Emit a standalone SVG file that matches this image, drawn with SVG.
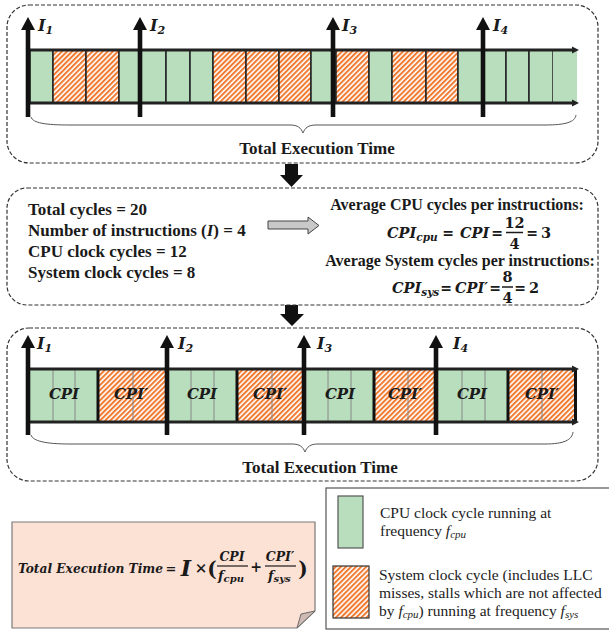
<svg xmlns="http://www.w3.org/2000/svg" xmlns:xlink="http://www.w3.org/1999/xlink" width="609" height="630" viewBox="0 0 609 630">
<style>
.dash{fill:none;stroke:#333;stroke-width:1.2;stroke-dasharray:4 2}
.g{fill:#B9DEBD;stroke:#222;stroke-width:1.5}
.h{fill:url(#hatch);stroke:#222;stroke-width:1.5}
.g2{fill:#B9DEBD;stroke:none}
.h2{fill:url(#hatch);stroke:none}
.thin{stroke:#888;stroke-width:1}
.thick{stroke:#111;stroke-width:3}
.bar{stroke:#222;stroke-width:3}
.brace{fill:none;stroke:#555;stroke-width:1}
.bt{font-family:"Liberation Serif",serif;font-weight:bold;fill:#1a1a1a}
.m{font-family:"DejaVu Serif",serif;font-weight:bold;font-style:italic;fill:#1a1a1a}
.mn{font-family:"DejaVu Serif",serif;font-weight:bold;fill:#1a1a1a}
.lg{font-family:"Liberation Serif",serif;font-size:15.5px;fill:#222}
.lbl{font-family:"DejaVu Serif",serif;font-weight:bold;font-style:italic;font-size:16px;fill:#1a1a1a}
</style>
<defs>
<pattern id="hatch" width="3.6" height="3.6" patternUnits="userSpaceOnUse" patternTransform="rotate(45)">
<rect width="3.6" height="3.6" fill="#fff"/>
<rect width="2" height="3.6" fill="#F07A30"/>
</pattern>
<g id="varrow">
<rect x="-2.3" y="11" width="4.6" height="89" fill="#111"/>
<polygon points="0,0 7,13 -7,13" fill="#111"/>
</g>
</defs>
<rect width="609" height="630" fill="#fff"/>

<!-- Panel 1 -->
<g id="panel1">
<rect class="dash" x="7" y="5" width="591" height="158" rx="22"/>
<g id="bar1">
<rect class="g" x="30" y="50" width="23" height="53"/>
<rect class="h" x="53" y="50" width="33" height="53"/>
<rect class="h" x="86" y="50" width="33" height="53"/>
<rect class="g" x="119" y="50" width="21" height="53"/>
<rect class="g" x="140" y="50" width="26" height="53"/>
<rect class="g" x="166" y="50" width="24" height="53"/>
<rect class="g" x="190" y="50" width="23" height="53"/>
<rect class="h" x="213" y="50" width="33" height="53"/>
<rect class="h" x="246" y="50" width="33" height="53"/>
<rect class="h" x="279" y="50" width="32" height="53"/>
<rect class="g" x="311" y="50" width="25" height="53"/>
<rect class="h" x="336" y="50" width="33" height="53"/>
<rect class="g" x="369" y="50" width="23" height="53"/>
<rect class="h" x="392" y="50" width="34" height="53"/>
<rect class="h" x="426" y="50" width="32" height="53"/>
<rect class="g" x="458" y="50" width="25" height="53"/>
<rect class="g" x="483" y="50" width="23" height="53"/>
<rect class="g" x="506" y="50" width="23" height="53"/>
<rect class="g" x="529" y="50" width="24" height="53"/>
<rect class="g2" x="553" y="50.8" width="24" height="51.4"/>
<line class="bar" x1="29" y1="50" x2="573" y2="50"/>
<line class="bar" x1="29" y1="103" x2="573" y2="103"/>
<polygon points="572,46.5 579,50 572,53.5" fill="#222"/>
<polygon points="572,99.5 579,103 572,106.5" fill="#222"/>
</g>
<path class="brace" d="M31,117 C33,123 45,125 70,125 L290,125 C298,125 301,128 303,133 C305,128 308,125 316,125 L545,125 C566,125 575,122 576,115"/>
<text class="bt" x="317" y="154" font-size="17" text-anchor="middle">Total Execution Time</text>
</g>

<g id="instr1">
<use xlink:href="#varrow" x="28" y="17"/>
<use xlink:href="#varrow" x="140" y="17"/>
<use xlink:href="#varrow" x="333" y="17"/>
<use xlink:href="#varrow" x="483" y="17"/>
<text class="lbl" x="38" y="31">I<tspan font-size="11" dy="3">1</tspan></text>
<text class="lbl" x="150" y="31">I<tspan font-size="11" dy="3">2</tspan></text>
<text class="lbl" x="342" y="31">I<tspan font-size="11" dy="3">3</tspan></text>
<text class="lbl" x="493" y="31">I<tspan font-size="11" dy="3">4</tspan></text>
</g>

<!-- connectors -->
<g id="connectors">
<polygon points="285,164 298,164 298,175 303,175 291.5,187 280,175 285,175" fill="#111"/>
<polygon points="285,305 298,305 298,314 304,314 292,326 280,314 285,314" fill="#111"/>
<polygon points="268,221 308,221 308,217 319,225.5 308,234 308,229 268,229" fill="#C8C8C8" stroke="#444" stroke-width="1"/>
</g>

<!-- Panel 2 -->
<g id="panel2">
<rect class="dash" x="7" y="188" width="591" height="117" rx="20"/>
<text class="bt" font-size="17" x="28" y="215">Total cycles = 20</text>
<text class="bt" font-size="17" x="28" y="236">Number of instructions (<tspan font-style="italic">I</tspan>) = 4</text>
<text class="bt" font-size="17" x="28" y="257">CPU clock cycles = 12</text>
<text class="bt" font-size="17" x="28" y="278">System clock cycles = 8</text>
<text class="bt" font-size="16" x="457" y="210" text-anchor="middle">Average CPU cycles per instructions:</text>
<text class="bt" font-size="16" x="460" y="266" text-anchor="middle">Average System cycles per instructions:</text>
<text class="m" font-size="14.5" x="387" y="238">CPI<tspan font-size="10.5" dy="3">cpu</tspan></text>
<text class="mn" font-size="14" x="448" y="238" text-anchor="middle">=</text>
<text class="m" font-size="14.5" x="460" y="238">CPI</text>
<text class="mn" font-size="14" x="497" y="238" text-anchor="middle">=</text>
<text class="mn" font-size="14.5" x="514.5" y="228" text-anchor="middle">12</text>
<line x1="506" y1="232.5" x2="523" y2="232.5" stroke="#1a1a1a" stroke-width="1.5"/>
<text class="mn" font-size="14.5" x="514.5" y="249" text-anchor="middle">4</text>
<text class="mn" font-size="14" x="532" y="238" text-anchor="middle">=</text>
<text class="mn" font-size="14.5" x="546" y="238" text-anchor="middle">3</text>
<text class="m" font-size="14.5" x="392" y="293">CPI<tspan font-size="10.5" dy="3">sys</tspan></text>
<text class="mn" font-size="14" x="446" y="293" text-anchor="middle">=</text>
<text class="m" font-size="14.5" x="455" y="293">CPI′</text>
<text class="mn" font-size="14" x="495" y="293" text-anchor="middle">=</text>
<text class="mn" font-size="14.5" x="507.5" y="282" text-anchor="middle">8</text>
<line x1="502" y1="287" x2="513" y2="287" stroke="#1a1a1a" stroke-width="1.5"/>
<text class="mn" font-size="14.5" x="507.5" y="303" text-anchor="middle">4</text>
<text class="mn" font-size="14" x="520" y="293" text-anchor="middle">=</text>
<text class="mn" font-size="14.5" x="534" y="293" text-anchor="middle">2</text>
</g>

<!-- Panel 3 -->
<g id="panel3">
<rect class="dash" x="7" y="328" width="591" height="153" rx="22"/>
<g id="bar2">
<rect class="g2" x="30" y="369" width="68" height="53"/>
<rect class="h2" x="98" y="369" width="68" height="53"/>
<rect class="g2" x="166" y="369" width="71" height="53"/>
<rect class="h2" x="237" y="369" width="67" height="53"/>
<rect class="g2" x="304" y="369" width="70" height="53"/>
<rect class="h2" x="374" y="369" width="62" height="53"/>
<rect class="g2" x="436" y="369" width="72" height="53"/>
<rect class="h2" x="508" y="369" width="68" height="53"/>
<g class="thin">
<line x1="53" y1="369" x2="53" y2="422"/><line x1="75" y1="369" x2="75" y2="422"/>
<line x1="133" y1="369" x2="133" y2="422"/>
<line x1="191" y1="369" x2="191" y2="422"/><line x1="214" y1="369" x2="214" y2="422"/>
<line x1="272" y1="369" x2="272" y2="422"/>
<line x1="328" y1="369" x2="328" y2="422"/><line x1="351" y1="369" x2="351" y2="422"/>
<line x1="408" y1="369" x2="408" y2="422"/>
<line x1="462" y1="369" x2="462" y2="422"/><line x1="485" y1="369" x2="485" y2="422"/>
<line x1="542" y1="369" x2="542" y2="422"/>
</g>
<g class="thick">
<line x1="98" y1="369" x2="98" y2="422"/>
<line x1="237" y1="369" x2="237" y2="422"/>
<line x1="374" y1="369" x2="374" y2="422"/>
<line x1="508" y1="369" x2="508" y2="422"/>
<line x1="575.5" y1="369" x2="575.5" y2="422"/>
</g>
<line class="bar" x1="29" y1="369" x2="573" y2="369"/>
<line class="bar" x1="29" y1="422" x2="573" y2="422"/>
<polygon points="572,365.5 579,369 572,372.5" fill="#222"/>
<polygon points="572,418.5 579,422 572,425.5" fill="#222"/>
<text class="m" font-size="15" x="64" y="399" text-anchor="middle">CPI</text>
<text class="m" font-size="15" x="131" y="399" text-anchor="middle">CPI′</text>
<text class="m" font-size="15" x="202" y="399" text-anchor="middle">CPI</text>
<text class="m" font-size="15" x="270" y="399" text-anchor="middle">CPI′</text>
<text class="m" font-size="15" x="340" y="399" text-anchor="middle">CPI</text>
<text class="m" font-size="15" x="405" y="399" text-anchor="middle">CPI′</text>
<text class="m" font-size="15" x="472" y="399" text-anchor="middle">CPI</text>
<text class="m" font-size="15" x="542" y="399" text-anchor="middle">CPI′</text>
</g>
<path class="brace" d="M31,435 C33,441 45,444 70,444 L292,444 C300,444 303,447 305,452 C307,447 310,444 318,444 L545,444 C564,444 572,440 573,432"/>
<text class="bt" x="320" y="473" font-size="17" text-anchor="middle">Total Execution Time</text>
</g>

<g id="instr2">
<use xlink:href="#varrow" x="28" y="335"/>
<use xlink:href="#varrow" x="167" y="335"/>
<use xlink:href="#varrow" x="304" y="335"/>
<use xlink:href="#varrow" x="436" y="335"/>
<text class="lbl" x="37" y="349">I<tspan font-size="11" dy="3">1</tspan></text>
<text class="lbl" x="178" y="349">I<tspan font-size="11" dy="3">2</tspan></text>
<text class="lbl" x="317" y="349">I<tspan font-size="11" dy="3">3</tspan></text>
<text class="lbl" x="453" y="349">I<tspan font-size="11" dy="3">4</tspan></text>
</g>

<!-- Formula note -->
<g id="formula">
<path d="M12,522 L315,522 L315,611 L297,628 L12,628 Z" fill="#FCE1D5" stroke="#7a7a7a" stroke-width="1.2"/>
<path d="M315,611 L297,628 L301,614 Z" fill="#CDBAB2" stroke="#6a6a6a" stroke-width="1"/>
<text class="m" font-size="12.5" x="18" y="573" textLength="145" lengthAdjust="spacingAndGlyphs">Total Execution Time</text>
<text class="mn" font-size="13" x="171" y="573" text-anchor="middle">=</text>
<text class="m" font-size="22" x="186" y="576" text-anchor="middle">I</text>
<text class="mn" font-size="15" x="201" y="573" text-anchor="middle">×</text>
<text class="mn" font-size="20" x="212" y="576" text-anchor="middle">(</text>
<text class="m" font-size="12.5" x="232" y="561" text-anchor="middle">CPI</text>
<line x1="217" y1="566" x2="248" y2="566" stroke="#1a1a1a" stroke-width="1.2"/>
<text class="m" font-size="13" x="218" y="580">f<tspan font-size="10" dy="2">cpu</tspan></text>
<text class="mn" font-size="14" x="256" y="572" text-anchor="middle">+</text>
<text class="m" font-size="12.5" x="280" y="561" text-anchor="middle">CPI′</text>
<line x1="265" y1="566" x2="296" y2="566" stroke="#1a1a1a" stroke-width="1.2"/>
<text class="m" font-size="13" x="268" y="580">f<tspan font-size="10" dy="2">sys</tspan></text>
<text class="mn" font-size="20" x="303" y="576" text-anchor="middle">)</text>
</g>

<!-- Legend -->
<g id="legend">
<rect x="326" y="488" width="290" height="141" fill="#fff" stroke="#555" stroke-width="1.2"/>
<rect x="338" y="496" width="25" height="52" fill="#B9DEBD" stroke="#555" stroke-width="1.2"/>
<rect x="333" y="566" width="36" height="52" fill="url(#hatch)" stroke="#333" stroke-width="1.2"/>
<text class="lg" x="380" y="518">CPU clock cycle running at</text>
<text class="lg" x="380" y="536">frequency <tspan font-style="italic">f</tspan><tspan font-style="italic" font-size="11" dy="2">cpu</tspan></text>
<text class="lg" x="379" y="580">System clock cycle (includes LLC</text>
<text class="lg" x="379" y="598">misses, stalls which are not affected</text>
<text class="lg" x="379" y="616">by <tspan font-style="italic">f</tspan><tspan font-style="italic" font-size="11" dy="2">cpu</tspan><tspan dy="-2">) running at frequency </tspan><tspan font-style="italic">f</tspan><tspan font-style="italic" font-size="11" dy="2">sys</tspan></text>
</g>
</svg>
